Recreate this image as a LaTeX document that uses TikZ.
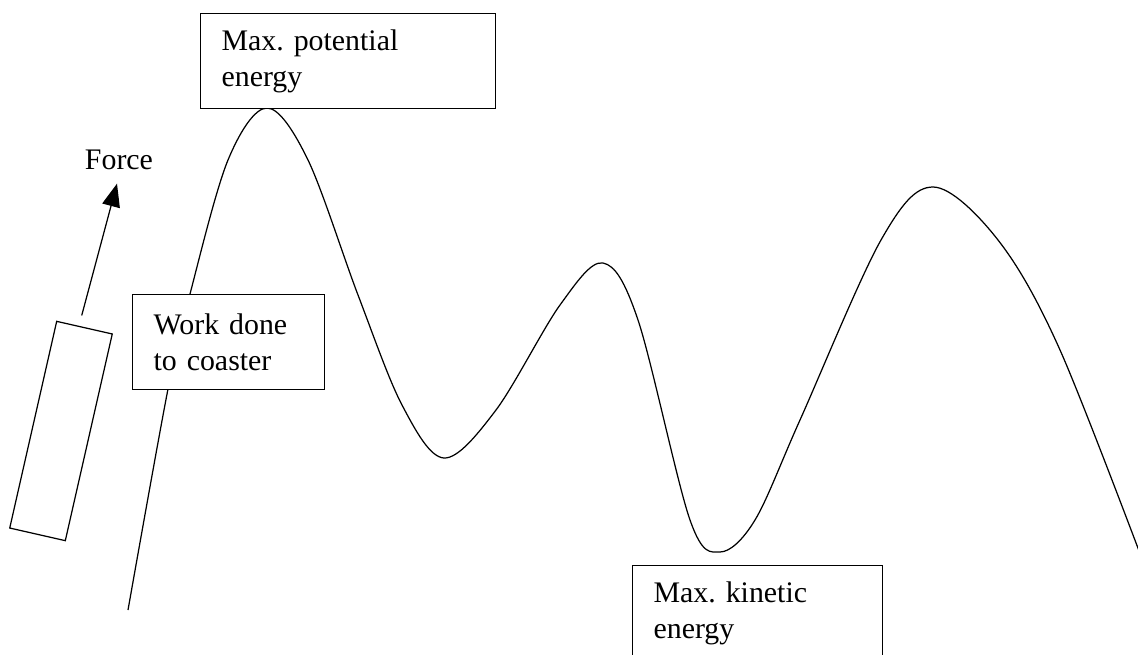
\documentclass[tikz,border=0pt]{standalone}
\usepackage{fontspec}
\setmainfont{Liberation Serif}
\usetikzlibrary{arrows.meta}
\frenchspacing

\begin{document}
\begin{tikzpicture}[
  x=0.02cm, y=-0.02cm,
  font=\fontsize{17}{20.5}\selectfont,
  box/.style={draw, fill=white, line width=0.7pt, anchor=north west,
    align=left, inner xsep=0.42cm, inner ysep=0pt, minimum height=1.9cm},
  track/.style={line width=0.7pt},
  ar/.style={-{Triangle[length=0.46cm, width=0.36cm]}, line width=0.7pt}
]
  \useasboundingbox (0,0) rectangle (1138,655);
  \clip (0,0) rectangle (1138,655);
  \draw[track] plot[smooth, tension=0.55] coordinates {
    (128,610) (168,389) (190,294) (228,160) (267,108) (308,160)
    (358,295) (402,405) (444,458) (496,410) (560,305) (603,263)
    (638,320) (690,520) (720,552) (755,520) (800,420) (881,240)
    (933,187) (998,240) (1060,350) (1150,580)};
  \node[box, text width=5.06cm] (potential) at (200,13)
    {Max. potential\\energy};
  \node[box, text width=3.0cm] (work) at (132,294)
    {Work done\\to coaster};
  \node[box, text width=4.16cm] (kinetic) at (632,565)
    {Max. kinetic\\energy};
  \node[draw, line width=0.7pt, minimum width=1.14cm, minimum height=4.24cm,
    rotate=-12.8] (car) at (61,431) {};
  \node[anchor=base, inner sep=0.26cm] (force) at (119,170) {Force};
  \draw[ar, shorten <=0.24cm] ([xshift=-0.12cm]car.north)
    -- ([xshift=-0.04cm]force.south);
\end{tikzpicture}
\end{document}
